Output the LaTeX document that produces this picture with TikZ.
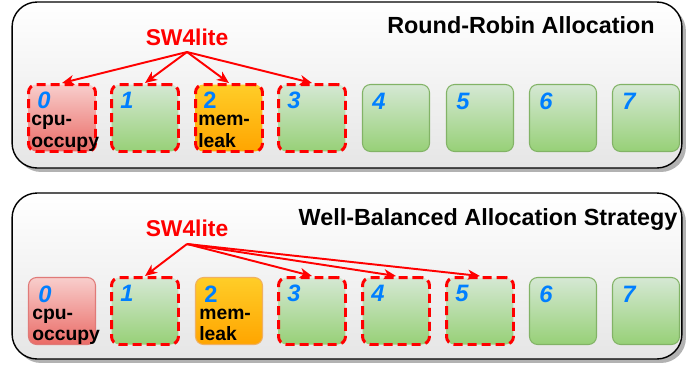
\documentclass[tikz,border=0pt]{standalone}
\usepackage{fontspec}
\setmainfont{Liberation Sans}
\usepackage{xcolor}
\usepackage{tikz}
\usetikzlibrary{arrows.meta,shadows,calc}

\definecolor{greentop}{HTML}{D5E8D4}
\definecolor{greenbot}{HTML}{97D077}
\definecolor{greenline}{HTML}{82B366}
\definecolor{redtop}{HTML}{F8CECC}
\definecolor{redbot}{HTML}{EA6B66}
\definecolor{redline}{HTML}{E07A78}
\definecolor{orangetop}{HTML}{FFCD28}
\definecolor{orangebot}{HTML}{FFA500}
\definecolor{orangeline}{HTML}{F0B060}
\definecolor{numblue}{HTML}{007FFF}

\tikzset{
  panel/.style={draw=black, line width=0.8pt, rounded corners=0.5cm,
    top color=white, bottom color=black!10,
    minimum width=13.4cm, minimum height=3.32cm,
    drop shadow={shadow xshift=0.08cm, shadow yshift=-0.08cm, fill=black!30, opacity=1}},
  core/.style={rounded corners=0.16cm, minimum width=1.34cm, minimum height=1.34cm,
    line width=0.6pt, inner sep=0pt},
  idle/.style={core, draw=greenline, top color=greentop, bottom color=greenbot},
  hog/.style={core, draw=redline, top color=redtop, bottom color=redbot},
  leaky/.style={core, draw=orangeline, top color=orangetop, bottom color=orangebot},
  picked/.style={draw=red, line width=1.7pt, dash pattern=on 0.18cm off 0.1cm},
  num/.style={anchor=north west, inner sep=0pt, text=numblue,
    font=\fontsize{13.5}{13.5}\selectfont\bfseries\itshape},
  tag/.style={anchor=base west, align=left, inner sep=0pt,
    font=\fontsize{11}{12.2}\selectfont\bfseries},
  swlabel/.style={text=red, font=\fontsize{13}{13}\selectfont\bfseries},
  title/.style={font=\fontsize{13.3}{14}\selectfont\bfseries},
  pick/.style={-{Stealth[length=0.24cm,width=0.2cm,inset=0.07cm]}, red, line width=1.1pt},
}

\begin{document}
\begin{tikzpicture}[x=0.02cm, y=-0.02cm]
\useasboundingbox (0,0) rectangle (687,366);

% round-robin
\node[panel] (rrbox) at (347,85) {};
\node[title] (rrtitle) at (521,25) {Round-Robin Allocation};
\node[hog, picked] (r0) at (62,118) {};
\node[idle, picked] (r1) at (145,118) {};
\node[leaky, picked] (r2) at (229,118) {};
\node[idle, picked] (r3) at (312,118) {};
\node[idle] (r4) at (396,118) {};
\node[idle] (r5) at (480,118) {};
\node[idle] (r6) at (563,118) {};
\node[idle] (r7) at (646,118) {};
\node[num] at ($(r0.north west)+(10,9)$) {0};
\node[num] at ($(r1.north west)+(10,9)$) {1};
\node[num, font=\fontsize{13.5}{13.5}\selectfont\bfseries] at ($(r2.north west)+(9,9)$) {2};
\node[num] at ($(r3.north west)+(10,9)$) {3};
\node[num] at ($(r4.north west)+(10,9)$) {4};
\node[num] at ($(r5.north west)+(10,9)$) {5};
\node[num] at ($(r6.north west)+(10,9)$) {6};
\node[num] at ($(r7.north west)+(10,9)$) {7};
\node[tag] (rhog) at ($(r0.north west)+(4,64)$) {cpu-\\occupy};
\node[tag] (rleak) at ($(r2.north west)+(4,64)$) {mem-\\leak};
\node[swlabel] (rrsw) at (187,37) {SW4lite};
\coordinate (rrfan) at (187,52);
\draw[pick] (rrfan) -- (r0.north);
\draw[pick] (rrfan) -- (r1.north);
\draw[pick] (rrfan) -- (r2.north);
\draw[pick] (rrfan) -- (r3.north);

% well-balanced
\node[panel] (wbbox) at (347,276) {};
\node[title] (wbtitle) at (488,220) {Well-Balanced Allocation Strategy};
\node[hog] (w0) at (62,311) {};
\node[idle, picked] (w1) at (145,311) {};
\node[leaky] (w2) at (229,311) {};
\node[idle, picked] (w3) at (312,311) {};
\node[idle, picked] (w4) at (396,311) {};
\node[idle, picked] (w5) at (480,311) {};
\node[idle] (w6) at (563,311) {};
\node[idle] (w7) at (646,311) {};
\node[num] at ($(w0.north west)+(10,9)$) {0};
\node[num] at ($(w1.north west)+(10,9)$) {1};
\node[num, font=\fontsize{13.5}{13.5}\selectfont\bfseries] at ($(w2.north west)+(9,9)$) {2};
\node[num] at ($(w3.north west)+(10,9)$) {3};
\node[num] at ($(w4.north west)+(10,9)$) {4};
\node[num] at ($(w5.north west)+(10,9)$) {5};
\node[num] at ($(w6.north west)+(10,9)$) {6};
\node[num] at ($(w7.north west)+(10,9)$) {7};
\node[tag] (whog) at ($(w0.north west)+(4,64)$) {cpu-\\occupy};
\node[tag] (wleak) at ($(w2.north west)+(4,64)$) {mem-\\leak};
\node[swlabel] (wbsw) at (187,228) {SW4lite};
\coordinate (wbfan) at (187,244);
\draw[pick] (wbfan) -- (w1.north);
\draw[pick] (wbfan) -- (w3.north);
\draw[pick] (wbfan) -- (w4.north);
\draw[pick] (wbfan) -- (w5.north);
\end{tikzpicture}
\end{document}
